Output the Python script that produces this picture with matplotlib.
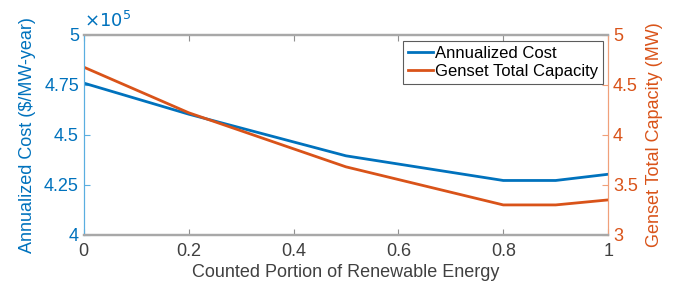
import numpy as np
import matplotlib.pyplot as plt
from matplotlib.ticker import FuncFormatter

plt.rcParams['font.family'] = ['Liberation Sans', 'DejaVu Sans']

# counted portion of renewable energy
portion = [0, 0.2, 0.5, 0.8, 0.9, 1.0]
# annualized cost ($/MW-year)
cost = [4.758e5, 4.603e5, 4.395e5, 4.272e5, 4.272e5, 4.303e5]
# genset total capacity (MW)
capacity = [4.675, 4.22, 3.68, 3.30, 3.30, 3.35]

blue = '#0072BD'
orange = '#D95319'
blue_ax = '#5aaee0'
orange_ax = '#f0a07a'

fig, ax = plt.subplots(figsize=(6.81, 2.93), dpi=100)
fig.subplots_adjust(left=0.123, right=0.893, top=0.882, bottom=0.198)
ax2 = ax.twinx()

l1, = ax.plot(portion, cost, color=blue, lw=2, label='Annualized Cost')
l2, = ax2.plot(portion, capacity, color=orange, lw=2, label='Genset Total Capacity')

ax.set_xlim(0, 1)
ax.set_ylim(4e5, 5e5)
ax2.set_ylim(3, 5)
ax.set_xticks([0, 0.2, 0.4, 0.6, 0.8, 1])
ax.set_xticklabels(['0', '0.2', '0.4', '0.6', '0.8', '1'])
ax.set_yticks([4e5, 4.25e5, 4.5e5, 4.75e5, 5e5])
ax.yaxis.set_major_formatter(FuncFormatter(lambda v, p: '%g' % (v / 1e5)))
ax2.set_yticks([3, 3.5, 4, 4.5, 5])
ax2.set_yticklabels(['3', '3.5', '4', '4.5', '5'])

ax.tick_params(axis='x', direction='in', top=True, colors='#404040', labelsize=13,
               length=4, width=0.8, color='#909090', pad=6)
ax.tick_params(axis='y', direction='in', colors=blue_ax, labelcolor=blue,
               labelsize=13, length=4, width=0.8)
ax2.tick_params(axis='y', direction='in', colors=orange_ax, labelcolor=orange,
                labelsize=13, length=4, width=0.8)

for a in (ax, ax2):
    a.spines['top'].set_color('#a8a8a8')
    a.spines['bottom'].set_color('#a8a8a8')
    a.spines['top'].set_linewidth(1.6)
    a.spines['bottom'].set_linewidth(1.6)
    a.spines['left'].set_color(blue_ax)
    a.spines['right'].set_color(orange_ax)

ax.set_xlabel('Counted Portion of Renewable Energy', fontsize=13, color='#404040', labelpad=3)
ax.set_ylabel('Annualized Cost ($/MW-year)', fontsize=13, color=blue, labelpad=6)
ax2.set_ylabel('Genset Total Capacity (MW)', fontsize=13, color=orange, labelpad=6)

ax.text(0.0, 1.02, r'$\times10^5$', transform=ax.transAxes, color=blue,
        fontsize=13, ha='left', va='bottom')

leg = ax2.legend(handles=[l1, l2], loc='upper right', bbox_to_anchor=(0.99, 0.97),
                 fontsize=12, frameon=True, fancybox=False, handlelength=1.5,
                 handletextpad=0.1, borderpad=0.3, labelspacing=0.2, borderaxespad=0)
leg.get_frame().set_edgecolor('#333333')
leg.get_frame().set_linewidth(0.8)

fig.savefig('out.png', dpi=100)
